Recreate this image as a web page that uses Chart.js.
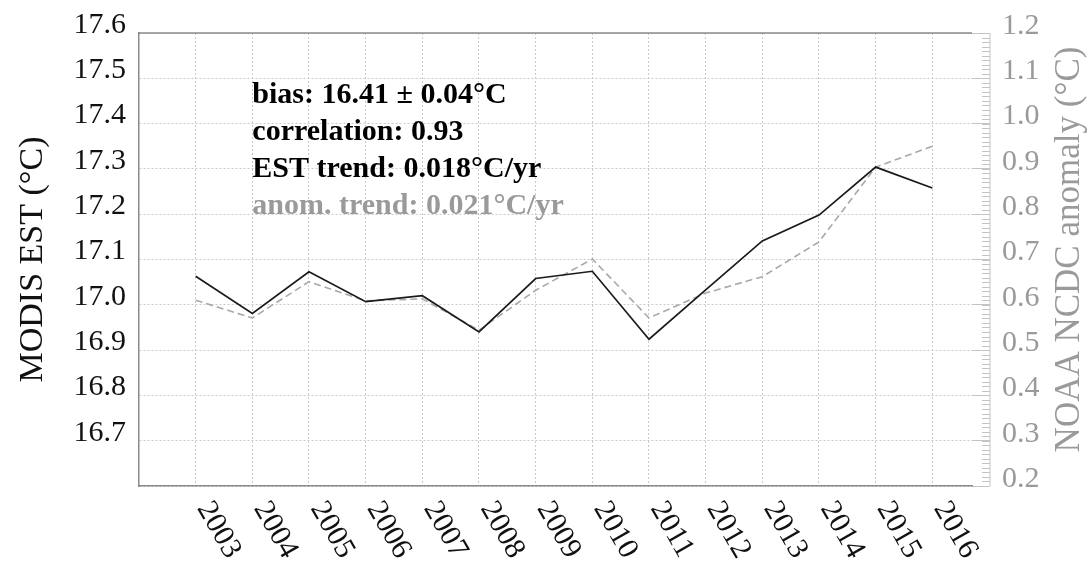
<!DOCTYPE html>
<html>
<head>
<meta charset="utf-8">
<script src="https://cdn.jsdelivr.net/npm/chart.js@4.4.1/dist/chart.umd.min.js"></script>
<style>
  html, body { margin: 0; padding: 0; background: #fff; }
  #wrap { width: 1089px; height: 563px; }
</style>
</head>
<body>
<div id="wrap"><canvas id="estChart" width="1089" height="563"></canvas></div>
<script>
// --- DATA ---
const years = [2003, 2004, 2005, 2006, 2007, 2008, 2009, 2010, 2011, 2012, 2013, 2014, 2015, 2016];
const estValues = [17.063, 16.981, 17.073, 17.007, 17.020, 16.940, 17.058, 17.074, 16.924, 17.033, 17.141, 17.198, 17.304, 17.258];
const anomValues = [0.610, 0.571, 0.651, 0.609, 0.613, 0.544, 0.632, 0.701, 0.571, 0.626, 0.662, 0.739, 0.904, 0.950];

const estRange = [16.6, 17.6];
const anomRange = [0.2, 1.2];
const xRange = [2002, 2016.7];

const estTitle = 'MODIS EST (°C)';
const anomTitle = 'NOAA NCDC anomaly (°C)';
const statLines = [
    { text: 'bias: 16.41 ± 0.04°C', color: '#000' },
    { text: 'correlation: 0.93', color: '#000' },
    { text: 'EST trend: 0.018°C/yr', color: '#000' },
    { text: 'anom. trend: 0.021°C/yr', color: '#9a9a9a' }
];

const FONT = "'Liberation Serif', 'Times New Roman', serif";
const GRAY = '#9a9a9a';

// --- EXTRA DRAWING (top border, right axis minor ticks, rotated years, notes) ---
const decorPlugin = {
    id: 'decor',
    afterDraw(chart) {
        const { ctx, chartArea: a, scales } = chart;
        const xs = scales.x, y1 = scales.y1;
        ctx.save();

        // top frame line
        ctx.strokeStyle = '#8a8a8a';
        ctx.lineWidth = 1.5;
        ctx.beginPath();
        ctx.moveTo(a.left, a.top);
        ctx.lineTo(a.right, a.top);
        ctx.stroke();

        // right axis line + minor ticks
        const axisX = a.right + 18;
        ctx.strokeStyle = '#c4c4c4';
        ctx.lineWidth = 1;
        ctx.beginPath();
        ctx.moveTo(axisX, y1.getPixelForValue(anomRange[0]));
        ctx.lineTo(axisX, y1.getPixelForValue(anomRange[1]));
        for (let i = 0; i <= 100; i++) {
            const py = Math.round(y1.getPixelForValue(anomRange[0] + i * 0.01)) + 0.5;
            ctx.moveTo(axisX - 8, py);
            ctx.lineTo(axisX, py);
        }
        ctx.stroke();

        // rotated year labels
        ctx.font = `30px ${FONT}`;
        ctx.fillStyle = '#111';
        ctx.textAlign = 'left';
        ctx.textBaseline = 'middle';
        years.forEach(yr => {
            ctx.save();
            ctx.translate(xs.getPixelForValue(yr) + 8, a.bottom + 18);
            ctx.rotate(Math.PI / 3);
            ctx.fillText(String(yr), 0, 0);
            ctx.restore();
        });

        // right axis title, reading upward
        ctx.save();
        ctx.translate(1070, (a.top + a.bottom) / 2 - 10);
        ctx.rotate(-Math.PI / 2);
        ctx.textAlign = 'center';
        ctx.textBaseline = 'middle';
        ctx.fillStyle = GRAY;
        ctx.font = `35px ${FONT}`;
        ctx.fillText(anomTitle, 0, 0);
        ctx.restore();

        // stats block
        ctx.font = `bold 30px ${FONT}`;
        ctx.textBaseline = 'alphabetic';
        const tx = xs.getPixelForValue(2004);
        statLines.forEach((ln, i) => {
            ctx.fillStyle = ln.color;
            ctx.fillText(ln.text, tx, a.top + 70 + i * 37);
        });

        ctx.restore();
    }
};

// --- CHART ---
const ctx = document.getElementById('estChart').getContext('2d');

const estChart = new Chart(ctx, {
    type: 'line',
    data: {
        datasets: [{
            label: 'MODIS EST',
            data: years.map((yr, i) => ({ x: yr, y: estValues[i] })),
            yAxisID: 'y',
            borderColor: '#1a1a1a',
            borderWidth: 1.7,
            pointRadius: 0,
            tension: 0,
            fill: false
        }, {
            label: 'NOAA NCDC anomaly',
            data: years.map((yr, i) => ({ x: yr, y: anomValues[i] })),
            yAxisID: 'y1',
            borderColor: '#a8a8a8',
            borderWidth: 1.6,
            borderDash: [7, 4],
            pointRadius: 0,
            tension: 0,
            fill: false
        }]
    },
    options: {
        responsive: false,
        animation: false,
        devicePixelRatio: 1,
        layout: { padding: { top: 33, left: 0, right: 0, bottom: 0 } },
        plugins: { legend: { display: false }, tooltip: { enabled: false } },
        scales: {
            x: {
                type: 'linear',
                min: xRange[0],
                max: xRange[1],
                afterBuildTicks: s => { s.ticks = years.map(v => ({ value: v })); },
                afterFit: s => { s.height = 77; },
                ticks: { display: false },
                grid: { color: '#cacaca', lineWidth: 1, drawTicks: false },
                border: { display: true, color: '#8a8a8a', width: 1.5, dash: [2, 2] }
            },
            y: {
                position: 'left',
                min: estRange[0],
                max: estRange[1],
                afterFit: s => { s.width = 139; },
                ticks: {
                    stepSize: 0.1,
                    padding: 13,
                    labelOffset: -8,
                    color: '#111',
                    font: { family: FONT, size: 30 },
                    callback: v => (v < estRange[0] + 0.05 ? '' : v.toFixed(1))
                },
                grid: { color: '#cacaca', lineWidth: 1, drawTicks: false },
                border: { display: true, color: '#8a8a8a', width: 1.5, dash: [2, 2] },
                title: {
                    display: true,
                    text: estTitle,
                    color: '#111',
                    font: { family: FONT, size: 34 },
                    padding: { top: 13, bottom: 0 }
                }
            },
            y1: {
                position: 'right',
                min: anomRange[0],
                max: anomRange[1],
                afterFit: s => { s.width = 117; },
                ticks: {
                    stepSize: 0.1,
                    padding: 12,
                    labelOffset: -7,
                    color: GRAY,
                    font: { family: FONT, size: 30 },
                    callback: v => v.toFixed(1)
                },
                grid: { drawOnChartArea: false, drawTicks: true, tickLength: 18, color: '#c4c4c4', tickColor: '#c4c4c4' },
                border: { display: false }
            }
        }
    },
    plugins: [decorPlugin]
});
</script>
</body>
</html>
